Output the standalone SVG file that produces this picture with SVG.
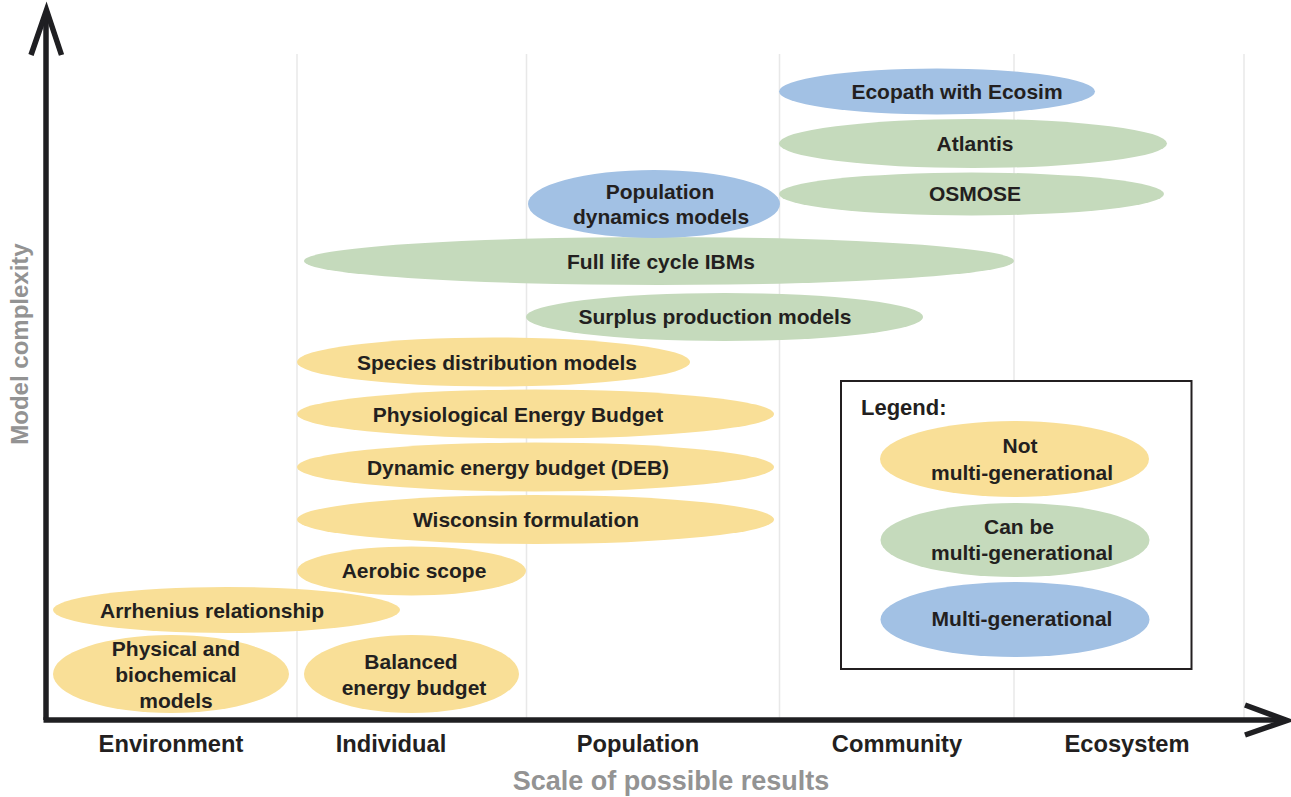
<svg xmlns="http://www.w3.org/2000/svg" width="1291" height="797" viewBox="0 0 1291 797">
<style>
.t{font-family:"Liberation Sans",Arial,Helvetica,sans-serif;font-weight:bold;font-size:21px;fill:#231f20;text-anchor:middle}
.ax{font-family:"Liberation Sans",Arial,Helvetica,sans-serif;font-weight:bold;font-size:23.7px;fill:#231f20;text-anchor:middle}
.ti{font-family:"Liberation Sans",Arial,Helvetica,sans-serif;font-weight:bold;font-size:27px;fill:#939393;text-anchor:middle}
.y{fill:#f9df97}
.g{fill:#c5dabc}
.b{fill:#a2c1e4}
.grid{stroke:#e8e8e8;stroke-width:1.5;fill:none}
.axis{stroke:#1f1f22;stroke-width:5.5;fill:none}
</style>
<rect width="1291" height="797" fill="#ffffff"/>
<g id="grid">
<line class="grid" x1="297" y1="54" x2="297" y2="718"/>
<line class="grid" x1="526.5" y1="54" x2="526.5" y2="718"/>
<line class="grid" x1="779.5" y1="54" x2="779.5" y2="718"/>
<line class="grid" x1="1014" y1="54" x2="1014" y2="718"/>
<line class="grid" x1="1244" y1="54" x2="1244" y2="718"/>
</g>
<g id="ecopath"><ellipse class="b" cx="937" cy="91.5" rx="158" ry="23"/><text class="t" x="957" y="99">Ecopath with Ecosim</text></g>
<g id="atlantis"><ellipse class="g" cx="973" cy="143.5" rx="194" ry="24.5"/><text class="t" x="975" y="151">Atlantis</text></g>
<g id="osmose"><ellipse class="g" cx="971.5" cy="194" rx="192.5" ry="21.5"/><text class="t" x="975" y="201">OSMOSE</text></g>
<g id="full-life-cycle"><ellipse class="g" cx="659" cy="261" rx="355" ry="24"/><text class="t" x="661" y="269">Full life cycle IBMs</text></g>
<g id="population-dynamics"><ellipse class="b" cx="654" cy="204" rx="126" ry="34"/><text class="t" x="660" y="199">Population</text><text class="t" x="661" y="224">dynamics models</text></g>
<g id="surplus"><ellipse class="g" cx="724.5" cy="317" rx="198.5" ry="24"/><text class="t" x="715" y="323.5">Surplus production models</text></g>
<g id="species-distribution"><ellipse class="y" cx="493.5" cy="362" rx="196.5" ry="24.5"/><text class="t" x="497" y="370">Species distribution models</text></g>
<g id="physiological"><ellipse class="y" cx="535.5" cy="414" rx="238.5" ry="24.5"/><text class="t" x="518" y="422">Physiological Energy Budget</text></g>
<g id="deb"><ellipse class="y" cx="535.5" cy="467" rx="238.5" ry="24.5"/><text class="t" x="518" y="475">Dynamic energy budget (DEB)</text></g>
<g id="wisconsin"><ellipse class="y" cx="535.5" cy="519.5" rx="238.5" ry="24.5"/><text class="t" x="526" y="527">Wisconsin formulation</text></g>
<g id="aerobic"><ellipse class="y" cx="411.5" cy="571" rx="114.5" ry="24.5"/><text class="t" x="414" y="577.5">Aerobic scope</text></g>
<g id="arrhenius"><ellipse class="y" cx="226.5" cy="610" rx="173.5" ry="23"/><text class="t" x="212" y="618">Arrhenius relationship</text></g>
<g id="physical"><ellipse class="y" cx="171" cy="674" rx="118" ry="39"/><text class="t" x="176" y="656">Physical and</text><text class="t" x="176" y="682">biochemical</text><text class="t" x="176" y="708">models</text></g>
<g id="balanced"><ellipse class="y" cx="411.5" cy="674" rx="107.5" ry="39"/><text class="t" x="411" y="669">Balanced</text><text class="t" x="414" y="695">energy budget</text></g>
<g id="legend">
<rect x="841" y="381" width="350.5" height="288" fill="#ffffff" stroke="#231f20" stroke-width="2"/>
<text x="861" y="415" style="font-family:'Liberation Sans',Arial,sans-serif;font-weight:bold;font-size:22px;fill:#231f20">Legend:</text>
<ellipse class="y" cx="1014.5" cy="459" rx="134.5" ry="38"/>
<text class="t" x="1020" y="453">Not</text><text class="t" x="1022" y="480">multi-generational</text>
<ellipse class="g" cx="1015" cy="540" rx="134.5" ry="37"/>
<text class="t" x="1019" y="534">Can be</text><text class="t" x="1022" y="560">multi-generational</text>
<ellipse class="b" cx="1015" cy="619.5" rx="134.5" ry="37.5"/>
<text class="t" x="1022" y="626">Multi-generational</text>
</g>
<g id="connectors">
<polyline class="axis" points="46,720 46,12"/>
<polyline class="axis" points="31,55 46.5,10 61.5,55"/>
<polyline class="axis" points="43.5,720 1286,720"/>
<polyline class="axis" points="1245,705 1287,720.5 1245,735"/>
</g>
<g id="axis-labels">
<text class="ax" x="171" y="752">Environment</text>
<text class="ax" x="391" y="752">Individual</text>
<text class="ax" x="638" y="752">Population</text>
<text class="ax" x="897" y="752">Community</text>
<text class="ax" x="1127" y="752">Ecosystem</text>
<text class="ti" x="671" y="790">Scale of possible results</text>
<text class="ti" x="0" y="0" transform="translate(28,344) rotate(-90)" style="font-size:24px">Model complexity</text>
</g>
</svg>
